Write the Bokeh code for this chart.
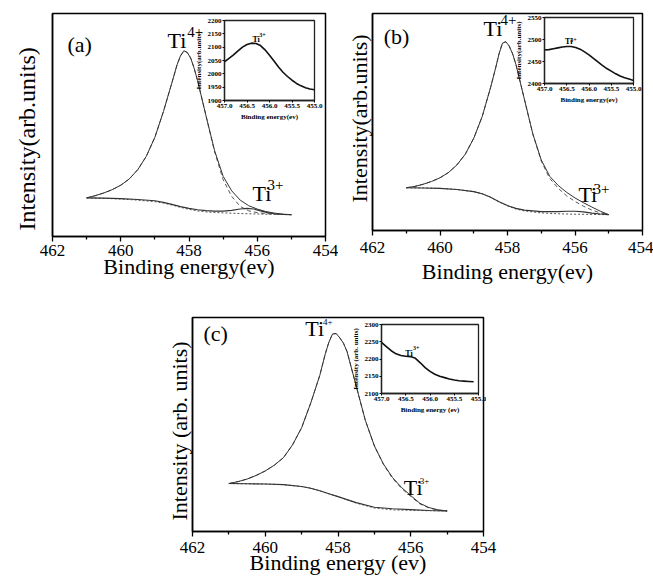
from bokeh.plotting import figure
from bokeh.models import Range1d, FixedTicker, Label, GridBox, PrintfTickFormatter
from bokeh.embed import file_html
from bokeh.resources import INLINE

SERIF = "Liberation Serif"

# ---------------- data ----------------
# main panels: binding energy (eV) and intensity (arb. units, 0-100 of frame)
main_e = [461.0, 460.75, 460.5, 460.25, 460.0, 459.75, 459.5, 459.25, 459.0, 458.75,
          458.5, 458.35, 458.25, 458.15, 458.05, 457.95, 457.85, 457.75, 457.5, 457.25,
          457.0, 456.75, 456.5, 456.25, 456.0, 455.75, 455.5, 455.25, 455.0]

a_env = [17.3, 18.3, 19.5, 21.0, 23.0, 25.8, 30.0, 36.0, 44.5, 56.0,
         69.0, 77.0, 81.0, 83.3, 82.5, 80.0, 75.5, 70.0, 54.0, 38.5,
         27.0, 20.5, 16.3, 13.8, 12.3, 11.2, 10.5, 10.0, 9.8]
a_ti4 = [17.3, 18.3, 19.5, 21.0, 23.0, 25.8, 30.0, 36.0, 44.5, 56.0,
         69.0, 77.0, 81.0, 83.3, 82.5, 80.0, 75.5, 70.0, 54.0, 38.0,
         25.5, 18.0, 13.5, 11.5, 10.7, 10.3, 10.0, 9.9, 9.8]
bg_e = [461.0, 460.5, 460.0, 459.5, 459.0, 458.75, 458.5, 458.25, 458.0, 457.75,
        457.5, 457.0, 456.5, 456.0, 455.5, 455.0]
a_bg = [17.3, 17.1, 16.8, 16.3, 15.6, 15.0, 14.1, 13.1, 12.2, 11.5,
        11.0, 10.6, 10.3, 10.1, 9.9, 9.8]
a_ti3_e = [461.0, 460.5, 460.0, 459.5, 459.0, 458.75, 458.5, 458.25, 458.0, 457.75,
           457.5, 457.25, 457.0, 456.75, 456.5, 456.3, 456.1, 455.9, 455.7, 455.5,
           455.25, 455.0]
a_ti3 = [17.3, 17.2, 17.0, 16.6, 16.0, 15.3, 14.4, 13.4, 12.6, 12.0,
         11.6, 11.4, 11.4, 11.7, 12.3, 12.6, 12.3, 11.5, 10.7, 10.2,
         9.9, 9.8]

b_env = [19.7, 20.3, 21.3, 22.6, 24.3, 26.7, 30.2, 35.2, 42.5, 52.5,
         66.0, 75.0, 81.5, 86.3, 87.0, 85.0, 81.5, 76.5, 60.5, 44.5,
         32.5, 25.0, 20.8, 17.6, 15.0, 12.8, 10.8, 8.9, 7.3]
b_ti4 = [19.7, 20.3, 21.3, 22.6, 24.3, 26.7, 30.2, 35.2, 42.5, 52.5,
         66.0, 75.0, 81.5, 86.3, 87.0, 85.0, 81.5, 76.5, 60.5, 44.5,
         32.0, 24.0, 19.5, 16.0, 13.4, 11.2, 9.4, 8.1, 7.3]
b_bg = [19.7, 19.6, 19.4, 18.9, 17.9, 16.9, 15.3, 13.2, 11.3, 9.9,
        9.0, 8.1, 7.7, 7.5, 7.4, 7.3]
b_ti3_e = [461.0, 460.5, 460.0, 459.5, 459.0, 458.75, 458.5, 458.25, 458.0, 457.75,
           457.5, 457.0, 456.5, 456.25, 456.0, 455.75, 455.5, 455.25, 455.0]
b_ti3 = [19.7, 19.6, 19.4, 18.9, 17.9, 16.9, 15.3, 13.3, 11.5, 10.2,
         9.4, 8.7, 8.7, 8.9, 8.9, 8.6, 8.0, 7.6, 7.3]

c_env = [22.4, 23.3, 24.5, 26.2, 28.3, 31.0, 34.5, 40.5, 48.5, 60.0,
         73.0, 83.0, 88.5, 92.3, 92.5, 90.5, 88.0, 84.0, 68.0, 52.0,
         40.0, 31.5, 25.2, 20.5, 16.8, 13.2, 11.2, 10.1, 9.6]
c_ti4 = [22.4, 23.3, 24.5, 26.2, 28.3, 31.0, 34.5, 40.5, 48.5, 60.0,
         73.0, 83.0, 88.5, 92.3, 92.5, 90.5, 88.0, 84.0, 68.0, 52.0,
         40.0, 31.3, 24.8, 20.1, 16.4, 12.9, 11.0, 10.0, 9.6]
c_bg = [22.4, 22.3, 22.2, 21.9, 21.0, 20.2, 19.0, 17.6, 16.3, 14.8,
        13.3, 11.0, 10.1, 9.9, 9.7, 9.6]
c_ti3 = [22.4, 22.3, 22.2, 21.9, 21.0, 20.2, 19.0, 17.6, 16.3, 14.9,
         13.5, 11.3, 10.6, 10.2, 9.8, 9.6]

main_ticks = [462, 460, 458, 456, 454]
main_minor = [461, 459, 457, 455]

# insets: binding energy (eV) and intensity (arb. units)
in_e = [457.0, 456.9, 456.8, 456.7, 456.6, 456.5, 456.4, 456.3, 456.2, 456.1,
        456.0, 455.9, 455.8, 455.7, 455.6, 455.5, 455.4, 455.3, 455.2, 455.1, 455.0]
ia_v = [2045, 2058, 2071, 2086, 2100, 2110, 2115, 2114, 2106, 2090,
        2070, 2048, 2026, 2006, 1990, 1976, 1964, 1955, 1948, 1943, 1940]
ib_v = [2476, 2477, 2479, 2481, 2483, 2484, 2484, 2482, 2478, 2472,
        2465, 2457, 2449, 2441, 2434, 2428, 2422, 2417, 2413, 2410, 2407]
ic_e = in_e[:-1]
ic_v = [2248, 2236, 2224, 2215, 2210, 2208, 2207, 2202, 2189, 2175,
        2164, 2156, 2150, 2146, 2142, 2139, 2137, 2136, 2135, 2134]

in_xticks = [457.0, 456.5, 456.0, 455.5, 455.0]
ia_yticks = [1900, 1950, 2000, 2050, 2100, 2150, 2200]
ib_yticks = [2400, 2450, 2500, 2550]
ic_yticks = [2100, 2150, 2200, 2250, 2300]


def main_fig(fw, fh, ml, mr, mt, mb, xlab, xlab_stand, tick_stand,
             ylab, ylab_size, ylab_stand, ylab_offset):
    p = figure(frame_width=fw, frame_height=fh, x_range=Range1d(462, 454), y_range=Range1d(0, 100),
               output_backend="svg", toolbar_location=None, title_location="left",
               min_border_left=ml, min_border_right=mr, min_border_top=mt, min_border_bottom=mb,
               background_fill_color="white", border_fill_color="white")
    p.grid.visible = False
    p.outline_line_color = "black"
    p.outline_line_width = 1.5
    xa = p.xaxis[0]
    xa.ticker = FixedTicker(ticks=main_ticks, minor_ticks=main_minor)
    xa.axis_line_width = 1.5
    xa.major_tick_line_width = 1.3
    xa.minor_tick_line_width = 1.3
    xa.major_tick_out = 5
    xa.major_tick_in = 0
    xa.minor_tick_out = 3
    xa.minor_tick_in = 0
    xa.major_label_text_font = SERIF
    xa.major_label_text_font_size = "17px"
    xa.major_label_text_color = "black"
    xa.major_label_standoff = tick_stand
    xa.axis_label = xlab
    xa.axis_label_text_font = SERIF
    xa.axis_label_text_font_size = "22px"
    xa.axis_label_text_font_style = "normal"
    xa.axis_label_text_color = "black"
    xa.axis_label_standoff = xlab_stand
    ya = p.yaxis[0]
    ya.ticker = FixedTicker(ticks=[], minor_ticks=[])
    ya.axis_line_width = 1.5
    ya.major_tick_out = 0
    ya.major_tick_in = 0
    ya.minor_tick_out = 0
    ya.minor_tick_in = 0
    ya.major_label_standoff = 0
    # y title (drawn as the plot title on the left side, so it can sit off-centre)
    t = p.title
    t.text = ylab
    t.align = "left"
    t.vertical_align = "middle"
    t.offset = ylab_offset
    t.standoff = ylab_stand
    t.text_font = SERIF
    t.text_font_size = ylab_size
    t.text_font_style = "normal"
    t.text_color = "black"
    p._box = (ml + fw + mr, mt + fh + mb)
    return p


def draw_main(p, env, ti4, bg_x, bg, ti3_x, ti3):
    p.line(bg_x, bg, line_color="#555555", line_width=1.0, line_dash="2 2")
    p.line(main_e, ti4, line_color="#555555", line_width=1.0, line_dash="4 3")
    p.line(ti3_x, ti3, line_color="#333333", line_width=1.1)
    p.line(main_e, env, line_color="#333333", line_width=1.0)


def text(p, x, y, t, size, bold=False):
    p.add_layout(Label(x=x, y=y, text=t, text_font=SERIF, text_font_size=size,
                       text_color="black", text_baseline="middle", text_align="left",
                       text_font_style="bold" if bold else "normal"))


def inset_fig(fw, fh, ml, mr, mt, mb, ylo, yhi, yticks, ylab, xlab):
    p = figure(frame_width=fw, frame_height=fh, x_range=Range1d(457.0, 455.0), y_range=Range1d(ylo, yhi),
               output_backend="svg", toolbar_location=None,
               min_border_left=ml, min_border_right=mr, min_border_top=mt, min_border_bottom=mb,
               background_fill_color="white", border_fill_alpha=0.0)
    p.grid.visible = False
    p.outline_line_color = "#222222"
    p.outline_line_width = 1.3
    xa = p.xaxis[0]
    xa.ticker = FixedTicker(ticks=in_xticks)
    xa.formatter = PrintfTickFormatter(format="%.1f")
    ya = p.yaxis[0]
    ya.ticker = FixedTicker(ticks=yticks)
    for ax in (xa, ya):
        ax.axis_line_width = 1.3
        ax.axis_line_color = "#222222"
        ax.major_tick_out = 2
        ax.major_tick_in = 0
        ax.major_tick_line_width = 1
        ax.minor_tick_out = 0
        ax.minor_tick_in = 0
        ax.major_label_text_font = SERIF
        ax.major_label_text_font_size = "7px"
        ax.major_label_text_font_style = "bold"
        ax.major_label_text_color = "black"
        ax.major_label_standoff = 1
        ax.axis_label_text_font = SERIF
        ax.axis_label_text_font_size = "7px"
        ax.axis_label_text_font_style = "bold"
        ax.axis_label_text_color = "black"
        ax.axis_label_standoff = 2
    xa.axis_label = xlab
    ya.axis_label = ylab
    p._box = (ml + fw + mr, mt + fh + mb)
    return p


# ---------------- panel (a) ----------------
pa = main_fig(273, 223, 52, 13, 5, 59, "Binding energy(ev)", -5, 3,
              "Intensity(arb.units)", "24px", 23, 6)
draw_main(pa, a_env, a_ti4, bg_e, a_bg, a_ti3_e, a_ti3)
text(pa, 461.56, 86.1, "(a)", "22px")
text(pa, 458.63, 87.9, "Ti", "22px")
text(pa, 458.05, 91.9, "4+", "15px")
text(pa, 456.14, 19.1, "Ti", "22px")
text(pa, 455.70, 23.3, "3+", "15px")

# ---------------- panel (b) ----------------
pb = main_fig(270, 217, 34, 11, 5, 65, "Binding energy(ev)", 3, 6,
              "Intensity(arb.units)", "22px", 0, 28)
draw_main(pb, b_env, b_ti4, bg_e, b_bg, b_ti3_e, b_ti3)
text(pb, 461.67, 89.4, "(b)", "22px")
text(pb, 458.71, 93.3, "Ti", "22px")
text(pb, 458.21, 96.8, "4+", "15px")
text(pb, 455.90, 16.8, "Ti", "22px")
text(pb, 455.45, 18.9, "3+", "15px")

# ---------------- panel (c) ----------------
pc = main_fig(291, 216, 32, 17, 22, 44, "Binding energy (ev)", -6, 5,
              "Intensity (arb. units)", "22px", 0, 11)
draw_main(pc, c_env, c_ti4, bg_e, c_bg, bg_e, c_ti3)
text(pc, 461.70, 92.3, "(c)", "22px")
text(pc, 458.90, 95.0, "Ti", "22px")
text(pc, 458.41, 98.1, "4+", "9px")
text(pc, 456.19, 20.7, "Ti", "22px")
text(pc, 455.75, 23.5, "3+", "9px")

# ---------------- insets ----------------
ia = inset_fig(90, 80, 36, 10, 6, 24, 1900, 2200, ia_yticks, "Intensity(arb.units)", "Binding energy(ev)")
ia.line(in_e, ia_v, line_color="#111111", line_width=1.6)
text(ia, 456.38, 2129, "Ti", "8px", True)
text(ia, 456.23, 2144, "3+", "6px", True)

ib = inset_fig(89, 67, 36, 10, 6, 22, 2400, 2550, ib_yticks, "Intensity(arb.units)", "Binding energy(ev)")
ib.line(in_e, ib_v, line_color="#111111", line_width=1.6)
text(ib, 456.54, 2495, "Ti", "8px", True)
text(ib, 456.42, 2500, "3+", "6px", True)

ic = inset_fig(97, 73, 36, 8, 6, 19, 2100, 2300, ic_yticks, "Intensity (arb. units)", "Binding energy (ev)")
ic.line(ic_e, ic_v, line_color="#111111", line_width=1.6)
text(ic, 456.51, 2217, "Ti", "8px", True)
text(ic, 456.35, 2231, "3+", "6px", True)

# ---------------- layout: overlapping cells in a CSS grid (page pixels) ----------------
boxes = [  # (fig, left, top)
    (pa, 0, 8), (pb, 338, 8), (pc, 160, 295),
    (ia, 188, 14), (ib, 508, 11), (ic, 345, 318),
]
xs = sorted({b for f, l, t in boxes for b in (l, l + f._box[0])} | {0})
ys = sorted({b for f, l, t in boxes for b in (t, t + f._box[1])} | {0})
cols = [f"{xs[i + 1] - xs[i]}px" for i in range(len(xs) - 1)]
rows = [f"{ys[i + 1] - ys[i]}px" for i in range(len(ys) - 1)]
children = []
for f, l, t in boxes:
    c0 = xs.index(l); c1 = xs.index(l + f._box[0])
    r0 = ys.index(t); r1 = ys.index(t + f._box[1])
    children.append((f, r0, c0, r1 - r0, c1 - c0))

grid = GridBox(children=children, rows=rows, cols=cols, spacing=0)

open("out.html", "w").write(file_html(grid, INLINE))
